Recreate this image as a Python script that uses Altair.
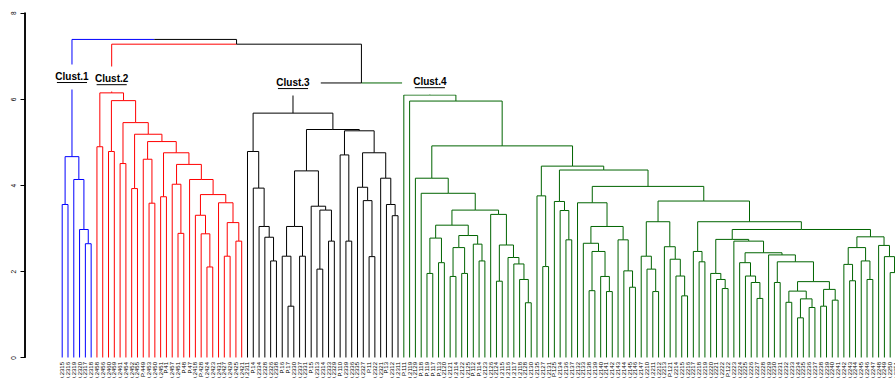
import altair as alt
import pandas as pd

# Sub-trees of the four clusters. A node is (merge height, left, right);
# an integer is a leaf, given by its position in the leaf order.
clust1 = (4.66, (3.55, 0, 1), (4.13, 2, (2.97, 3, (2.64, 4, 5))))

clust2 = (6.14,
          (4.89, 6, 7),
          (5.96,
           (4.78, 8, 9),
           (5.45,
            (4.50, 10, 11),
            (5.18,
             (3.92, 12, 13),
             (5.01,
              (4.60, 14, (3.58, 15, 16)),
              (4.75,
               (3.73, 17, 18),
               (4.48,
                (4.02, 19, (2.88, 20, 21)),
                (4.13,
                 22,
                 (3.78,
                  (3.30, 23, (2.87, 24, (2.10, 25, 26))),
                  (3.59, 27, (3.13, (2.35, 28, 29), (2.70, 30, 31))))))))))))

clust3 = (5.67,
          (4.78, 32, (3.93, 33, (3.04, 34, (2.79, 35, (2.24, 36, 37))))),
          (5.29,
           (4.33,
            (3.04, (2.35, 38, (1.19, 39, 40)), (2.35, 41, 42)),
            (3.51, 43, (3.42, (2.05, 44, 45), (2.70, 46, 47)))),
           (5.26,
            (4.70, 48, (2.70, 49, 50)),
            (4.75,
             (3.95, 51, (3.64, 52, (2.34, 53, 54))),
             (4.16, 55, (3.55, 56, (3.29, 57, 58)))))))

c4_a = (3.07,
        (2.77, (1.95, 63, 64), (2.20, 65, 66)),
        (2.83, (2.55, (1.88, 67, 68), (1.95, 69, 70)),
         (2.63, 71, (2.24, 72, 73))))
c4_b = (3.32, 74, (2.61, (1.77, 75, 76),
                   (2.32, 77, (2.17, 78, (1.81, 79, (1.27, 80, 81))))))
c4_c = (3.59, 89,
        (3.04,
         (2.65, 90, (2.46, (1.55, 91, 92), (1.88, 93, (1.53, 94, 95)))),
         (2.73, 96, (2.01, 97, (1.63, 98, 99)))))
c4_d = (3.15,
        (2.35, 100, (2.05, 101, (1.53, 102, 103))),
        (2.57, 104, (2.28, 105, (1.89, 106, (1.43, 107, 108)))))
c4_e = (2.38, 122,
        (2.22, (1.74, 123, 124),
         (1.76,
          (1.54, (1.28, 125, 126), (1.36, (0.92, 127, 128), (1.16, 129, 130))),
          (1.58, (1.19, 131, 132), (1.33, 133, 134)))))
c4_f = (2.74,
        (1.95, 112, (1.81, 113, (1.60, 114, 115))),
        (2.70, 116, (2.43, (2.20, 117, (1.89, 118, (1.74, 119, (1.37, 120, 121)))),
                     c4_e)))
c4_g = (2.80,
        (2.55, (2.16, 135, (1.78, 136, 137)), (2.24, 138, (1.81, 139, 140))),
        (2.60, 141, (2.34, 142, (1.97, 143, (1.60, 144, 145)))))
clust4 = (6.09, 59,
          (5.95, 60,
           (4.91,
            (4.16, 61, (3.81, 62, (3.42, c4_a, c4_b))),
            (4.44,
             (3.75, 82, (2.11, 83, 84)),
             (4.35,
              (3.62, 85, (3.41, 86, (2.73, 87, 88))),
              (3.97, c4_c,
               (3.63, c4_d,
                (3.15, (2.46, 109, (2.22, 110, 111)),
                 (2.97, c4_f, c4_g)))))))))

# Heights of the joins above the clusters: root, then (Clust.2 + rest), then (Clust.3 + Clust.4)
upper_heights = [7.38, 7.27, 6.37]

cluster_names = ["Clust.1", "Clust.2", "Clust.3", "Clust.4"]
cluster_colors = ["#0000FF", "#FF0000", "#000000", "#006400"]
cluster_label_levels = [6.51, 6.46, 6.37, 6.39]

labels_c1 = ["D.2315", "D.2316", "D.2319", "D.2320", "D.2317", "D.2318"]
labels_c2 = ["D.2458", "D.2456", "D.2460", "D.2459", "D.2461", "D.2454",
             "D.2452", "D.2455", "P.449", "D.2453", "D.2450", "D.2451",
             "P.41", "D.2457", "D.2451", "P.48", "P.47", "D.2418",
             "P.428", "D.2424", "D.2423", "D.2431", "D.2427", "D.2429",
             "D.2425", "D.2421"]
labels_c3 = ["D.2311", "P.14", "D.2334", "D.2328", "D.2326", "D.2338",
             "P.16", "P.17", "D.2330", "D.2337", "D.2331", "P.15",
             "D.2313", "D.2314", "D.2333", "D.2329", "P.110", "D.2339",
             "D.2336", "D.2335", "D.2327", "P.11", "D.2322", "D.2321",
             "P.13", "D.2312", "D.2311"]
labels_c4 = ["P.111", "D.2119", "D.2129", "P.118", "P.119", "P.117",
             "P.113", "D.2120", "D.2121", "D.2114", "D.2122", "D.2125",
             "P.112", "P.114", "D.2123", "D.2126", "D.2124", "D.2115",
             "D.2116", "D.2117", "D.2118", "D.2128", "D.2130", "D.2135",
             "D.2127", "D.2131", "P.125", "D.2134", "D.2136", "D.2137",
             "D.2132", "D.2133", "D.2138", "D.2139", "D.2140", "D.2141",
             "D.2142", "D.2143", "D.2144", "D.2145", "D.2146", "D.2147",
             "D.2210", "D.2211", "D.2212", "D.2213", "P.121", "D.2214",
             "D.2215", "D.2216", "D.2217", "D.2218", "D.2219", "D.2220",
             "D.2221", "D.2222", "P.122", "D.2223", "D.2224", "D.2225",
             "D.2226", "D.2227", "D.2228", "D.2229", "D.2230", "D.2231",
             "D.2232", "D.2233", "D.2234", "D.2235", "D.2236", "D.2237",
             "D.2238", "D.2239", "D.2240", "D.2241", "D.2242", "D.2243",
             "D.2244", "D.2245", "D.2246", "D.2247", "D.2248", "D.2249",
             "D.2250", "D.2251", "D.2252"]
leaf_labels = labels_c1 + labels_c2 + labels_c3 + labels_c4

clusters = [clust1, clust2, clust3, clust4]
root = (upper_heights[0], clust1,
        (upper_heights[1], clust2, (upper_heights[2], clust3, clust4)))

# ---- dendrogram layout: leaves at their order index, nodes at child midpoints
colour_of = {id(t): c for t, c in zip(clusters, cluster_colors)}
segments = []
node_pos = {}


def walk(node, colour):
    if not isinstance(node, tuple):
        return float(node), 0.0, colour
    colour = colour_of.get(id(node), colour)
    h, a, b = node
    xa, ha, ca = walk(a, colour)
    xb, hb, cb = walk(b, colour)
    xm = (xa + xb) / 2.0
    segments.extend([
        dict(x=xa, x2=xa, y=ha, y2=h, col=ca),
        dict(x=xb, x2=xb, y=hb, y2=h, col=cb),
        dict(x=xa, x2=xm, y=h, y2=h, col=ca),
        dict(x=xm, x2=xb, y=h, y2=h, col=cb),
    ])
    node_pos[id(node)] = xm
    return xm, h, colour


walk(root, "#000000")
seg_df = pd.DataFrame(segments)

lab_rows = []
for name, tree, lvl in zip(cluster_names, clusters, cluster_label_levels):
    xc = node_pos[id(tree)]
    lab_rows.append(dict(name=name, x=xc, y=lvl,
                         bx=xc - 4.8, bx2=xc + 4.8, by=lvl - 0.29, by2=lvl + 0.29,
                         ux=xc - 2.6, ux2=xc + 2.6, uy=lvl - 0.13))
lab_df = pd.DataFrame(lab_rows)

leaf_df = pd.DataFrame({"x": range(len(leaf_labels)), "label": leaf_labels})

xs = alt.Scale(domain=[-6.425, 143.83], nice=False, zero=False)
ys = alt.Scale(domain=[-0.476, 8.295], nice=False, zero=False)

y_axis = alt.Axis(values=[0, 2, 4, 6, 8], title=None, grid=False, domain=False,
                  ticks=True, tickSize=5, tickColor="black", tickWidth=1,
                  labels=True, labelAngle=270, labelAlign="center",
                  labelBaseline="bottom", labelPadding=4, labelFontSize=6.5,
                  labelColor="black", labelFont="Liberation Sans")

branches = alt.Chart(seg_df).mark_rule(strokeWidth=1).encode(
    x=alt.X("x:Q", scale=xs, axis=None),
    x2="x2:Q",
    y=alt.Y("y:Q", scale=ys, axis=y_axis),
    y2="y2:Q",
    color=alt.Color("col:N", scale=None),
)

axis_line = alt.Chart(lab_df).mark_rule(color="black", strokeWidth=1).encode(
    x=alt.value(0),
    y=alt.Y(datum=0, scale=ys, axis=y_axis),
    y2=alt.datum(8),
)

boxes = alt.Chart(lab_df).mark_rect(color="white").encode(
    x=alt.X("bx:Q", scale=xs, axis=None), x2="bx2:Q",
    y=alt.Y("by:Q", scale=ys, axis=y_axis), y2="by2:Q",
)

names = alt.Chart(lab_df).mark_text(
    font="Liberation Sans", fontWeight="bold", fontSize=10, color="black",
    align="center", baseline="middle",
).encode(
    x=alt.X("x:Q", scale=xs, axis=None),
    y=alt.Y("y:Q", scale=ys, axis=y_axis),
    text="name:N",
)

underlines = alt.Chart(lab_df).mark_rule(color="black", strokeWidth=1).encode(
    x=alt.X("ux:Q", scale=xs, axis=None), x2="ux2:Q",
    y=alt.Y("uy:Q", scale=ys, axis=y_axis),
)

leaves = alt.Chart(leaf_df).mark_text(
    font="Liberation Sans", fontSize=6, color="black",
    angle=270, align="right", baseline="middle", yOffset=4.5,
).encode(
    x=alt.X("x:Q", scale=xs, axis=None),
    y=alt.Y(datum=0, scale=ys, axis=y_axis),
    text="label:N",
)

chart = alt.layer(branches, axis_line, boxes, names, underlines, leaves).properties(
    width=870, height=378,
    autosize=alt.AutoSizeParams(type="none"),
    padding={"left": 25, "top": 0, "right": 0, "bottom": 0},
    background="white",
).configure_view(stroke=None)

chart.save("out.html", embed_options={"renderer": "svg", "actions": False})
